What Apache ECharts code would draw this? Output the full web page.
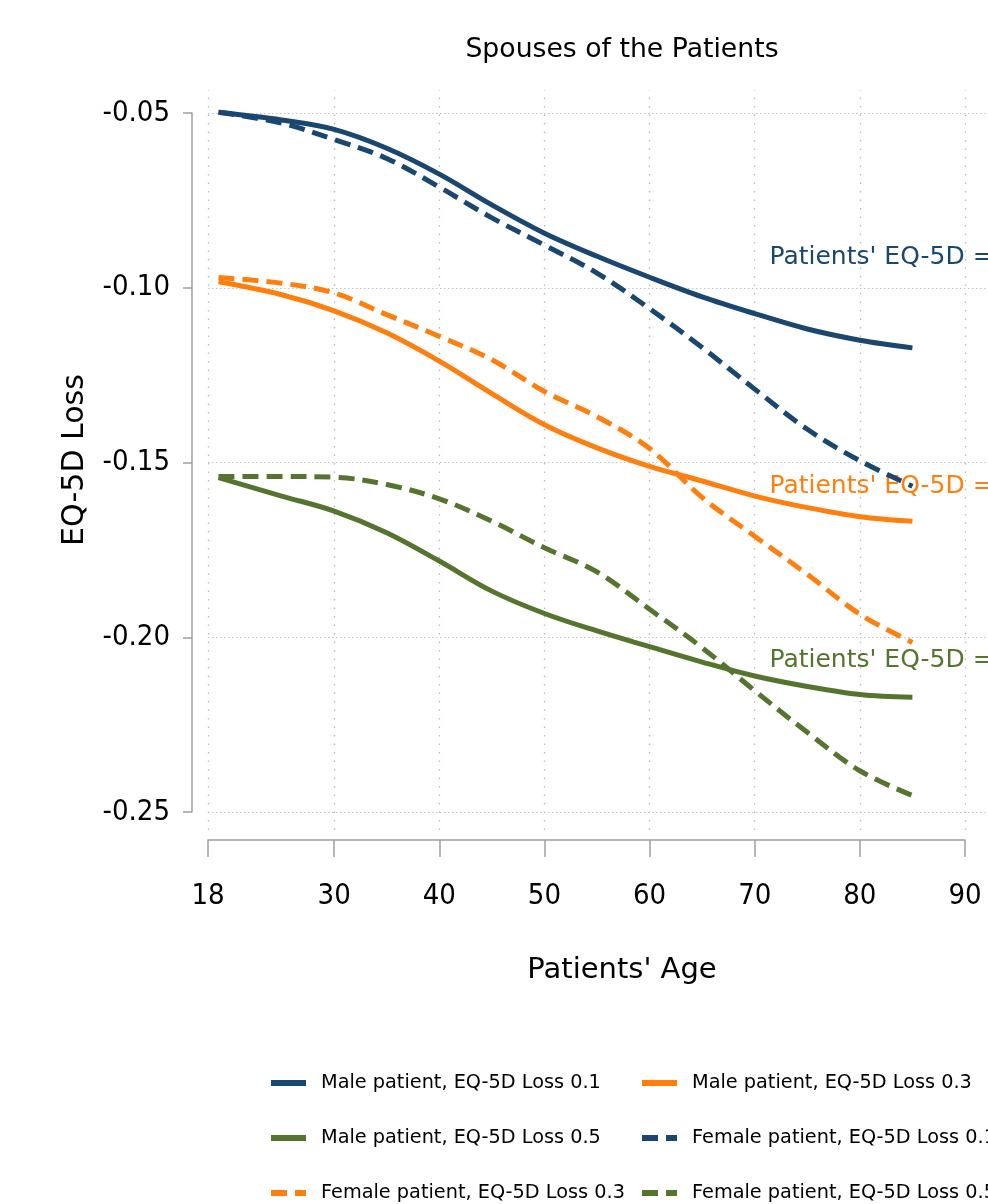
<!DOCTYPE html>
<html>
<head>
<meta charset="utf-8">
<script src="https://cdn.jsdelivr.net/npm/echarts@6/dist/echarts.min.js"></script>
<style>html,body{margin:0;padding:0;background:#fff}#c{width:988px;height:1204px}</style>
</head>
<body>
<div id="c"></div>
<script>
// ---- data ----
const ages = [19, 25, 30, 35, 40, 45, 50, 55, 60, 65, 70, 75, 80, 85];
const male01   = [-0.0498,-0.0520,-0.0547,-0.0601,-0.0675,-0.0763,-0.0844,-0.0910,-0.0970,-0.1026,-0.1074,-0.1118,-0.1150,-0.1172];
const female01 = [-0.0498,-0.0529,-0.0576,-0.0630,-0.0712,-0.0800,-0.0878,-0.0958,-0.1060,-0.1171,-0.1290,-0.1405,-0.1495,-0.1568];
const male03   = [-0.0983,-0.1020,-0.1066,-0.1129,-0.1210,-0.1303,-0.1392,-0.1458,-0.1511,-0.1553,-0.1596,-0.1629,-0.1655,-0.1668];
const female03 = [-0.0971,-0.0987,-0.1015,-0.1077,-0.1139,-0.1206,-0.1297,-0.1369,-0.1460,-0.1600,-0.1711,-0.1820,-0.1934,-0.2015];
const male05   = [-0.1543,-0.1596,-0.1639,-0.1701,-0.1782,-0.1868,-0.1932,-0.1982,-0.2027,-0.2071,-0.2111,-0.2141,-0.2164,-0.2172];
const female05 = [-0.1540,-0.1540,-0.1542,-0.1563,-0.1604,-0.1668,-0.1744,-0.1813,-0.1920,-0.2030,-0.2153,-0.2272,-0.2382,-0.2453];

const xTicks = [18, 30, 40, 50, 60, 70, 80, 90];
const yTicks = [-0.25, -0.20, -0.15, -0.10, -0.05];
const seriesNames = [
  'Male patient, EQ-5D Loss 0.1', 'Male patient, EQ-5D Loss 0.3',
  'Male patient, EQ-5D Loss 0.5', 'Female patient, EQ-5D Loss 0.1',
  'Female patient, EQ-5D Loss 0.3', 'Female patient, EQ-5D Loss 0.5'
];
const annotText = "Patients' EQ-5D =";
const annotAge = 71.4;
const annotValues = [-0.0914, -0.1569, -0.2066];

const titleText = 'Spouses of the Patients';
const xTitle = "Patients' Age";
const yTitle = 'EQ-5D Loss';

// ---- styling ----
const BLUE = '#1a476f', ORANGE = '#ff7f0e', GREEN = '#55752f';
const FONT = 'DejaVu Sans';
const TICKFONT = 'DejaVu Sans Condensed';
const W = 988, H = 1204;
const G0 = {left: 208, right: 23, top: 113, bottom: 392};
const G1 = {left: 208, right: 0, top: 90, bottom: 374};
const xMin = 18, xMax = 90, yMin = -0.25, yMax = -0.05;
const pxPerX = (W - G0.left - G0.right) / (xMax - xMin);
const pxPerY = (H - G0.top - G0.bottom) / (yMax - yMin);
const x1Min = xMin - (G0.left - G1.left) / pxPerX;
const x1Max = xMax + (G0.right - G1.right) / pxPerX;
const y1Max = yMax + (G0.top - G1.top) / pxPerY;
const y1Min = yMin - (G0.bottom - G1.bottom) / pxPerY;

const DASH = [16, 8];
function pairs(vals) { return ages.map((a, i) => [a, vals[i]]); }
function annot(color, v) {
  return {
    symbol: 'circle', symbolSize: 0, silent: true,
    data: [{coord: [annotAge, v]}],
    label: {show: true, position: 'right', distance: 0, formatter: annotText,
      color: color, fontFamily: FONT, fontSize: 25}
  };
}
function line(name, vals, color, dashed, mp) {
  const s = {
    name, type: 'line', xAxisIndex: 0, yAxisIndex: 0,
    data: pairs(vals), smooth: 0.35, symbol: 'none', clip: false, z: 5,
    lineStyle: {color, width: 5, type: dashed ? DASH : 'solid', cap: 'butt'},
    itemStyle: {color}
  };
  if (mp !== undefined) s.markPoint = annot(color, mp);
  return s;
}

const gridLineStyleV = {color: '#b8b8b8', width: 1.3, type: [1.5, 7]};
const gridLineStyleH = {color: '#c4c4c4', width: 1.2, type: [1.5, 2.5]};

// legend layout: two columns, three rows (row-major order of seriesNames)
const legendCols = [268, 639];
const legendRows = [1073, 1128, 1183];
const legends = seriesNames.map((nm, i) => ({
  left: legendCols[i % 2], top: legendRows[Math.floor(i / 2)],
  padding: 0,
  itemWidth: 35, itemHeight: 14, selectedMode: false,
  data: [nm],
  itemStyle: {opacity: 0},
  lineStyle: {width: 6},
  textStyle: {fontFamily: FONT, fontSize: 19.3, color: '#000', lineHeight: 20, padding: [0, 0, 0, 10]}
}));

const option = {
  animation: false,
  backgroundColor: '#fff',
  textStyle: {fontFamily: FONT},
  grid: [
    {left: G0.left, right: G0.right, top: G0.top, bottom: G0.bottom, containLabel: false},
    {left: G1.left, right: G1.right, top: G1.top, bottom: G1.bottom, containLabel: false}
  ],
  xAxis: [
    {type: 'value', gridIndex: 0, min: xMin, max: xMax, offset: 28,
      axisLine: {show: true, lineStyle: {color: '#a0a0a0', width: 1.5}},
      axisTick: {show: true, length: 17, customValues: xTicks, lineStyle: {color: '#a0a0a0', width: 1.5}},
      axisLabel: {customValues: xTicks, margin: 42, color: '#000', fontFamily: TICKFONT, fontSize: 29},
      splitLine: {show: false}},
    {type: 'value', gridIndex: 1, min: x1Min, max: x1Max, show: false}
  ],
  yAxis: [
    {type: 'value', gridIndex: 0, min: yMin, max: yMax, offset: 16,
      axisLine: {show: true, lineStyle: {color: '#a0a0a0', width: 1.5}},
      axisTick: {show: true, length: 9, customValues: yTicks, lineStyle: {color: '#a0a0a0', width: 1.5}},
      axisLabel: {customValues: yTicks, margin: 22, color: '#000', fontFamily: TICKFONT, fontSize: 29,
        formatter: v => v.toFixed(2)},
      splitLine: {show: false}},
    {type: 'value', gridIndex: 1, min: y1Min, max: y1Max, show: false}
  ],
  legend: legends,
  graphic: [
    {type: 'text', x: 622, y: 50, silent: true,
      style: {text: titleText, fill: '#000', font: '26.7px "DejaVu Sans"', align: 'center', verticalAlign: 'middle'}},
    {type: 'text', x: 622, y: 970, silent: true,
      style: {text: xTitle, fill: '#000', font: '29px "DejaVu Sans"', align: 'center', verticalAlign: 'middle'}},
    {type: 'text', x: 75, y: 460, rotation: Math.PI / 2, silent: true,
      style: {text: yTitle, fill: '#000', font: '30px "DejaVu Sans"', align: 'center', verticalAlign: 'middle'}}
  ],
  series: [
    {type: 'line', name: '__grid', xAxisIndex: 1, yAxisIndex: 1, data: [], silent: true, z: 1,
      markLine: {silent: true, symbol: ['none', 'none'], label: {show: false}, animation: false,
        data: xTicks.map(v => ({xAxis: v, lineStyle: gridLineStyleV}))
          .concat(yTicks.map(v => ({yAxis: v, lineStyle: gridLineStyleH})))}},
    line(seriesNames[0], male01, BLUE, false, annotValues[0]),
    line(seriesNames[1], male03, ORANGE, false, annotValues[1]),
    line(seriesNames[2], male05, GREEN, false, annotValues[2]),
    line(seriesNames[3], female01, BLUE, true),
    line(seriesNames[4], female03, ORANGE, true),
    line(seriesNames[5], female05, GREEN, true)
  ]
};

const chart = echarts.init(document.getElementById('c'), null, {renderer: 'canvas', width: W, height: H});
chart.setOption(option);
</script>
</body>
</html>
